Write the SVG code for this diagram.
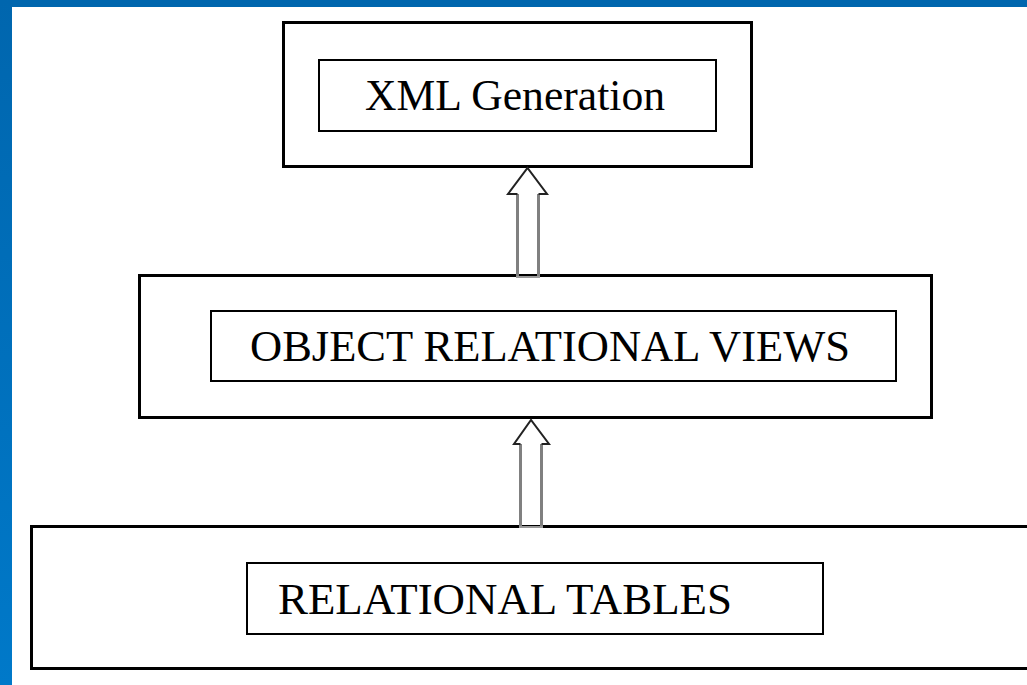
<svg xmlns="http://www.w3.org/2000/svg" width="1027" height="685" viewBox="0 0 1027 685">
<defs>
<linearGradient id="bl" x1="0" y1="0" x2="0" y2="1">
<stop offset="0" stop-color="#0066ae"/>
<stop offset="1" stop-color="#0079c9"/>
</linearGradient>
<style>
.outer{fill:#fff;stroke:#000;stroke-width:3}
.inner{fill:#fff;stroke:#000;stroke-width:2}
.t{font-family:"Liberation Serif","Times New Roman",serif;font-size:44px;fill:#000}
.shaft{fill:#fff;stroke:#808080;stroke-width:3}
.head{fill:none;stroke:#222;stroke-width:2;stroke-linejoin:miter}
</style>
</defs>
<rect x="0" y="0" width="1027" height="685" fill="#fff"/>
<rect x="0" y="0" width="1027" height="7" fill="#0066ae"/>
<rect x="0" y="0" width="12" height="685" fill="url(#bl)"/>
<g id="xml-generation">
<rect class="outer" x="283.5" y="22.5" width="468" height="144"/>
<rect class="inner" x="319" y="60" width="397" height="71"/>
<text class="t" x="365" y="110" textLength="300" lengthAdjust="spacingAndGlyphs">XML Generation</text>
</g>
<g id="object-relational-views">
<rect class="outer" x="139.5" y="275.5" width="792" height="142"/>
<rect class="inner" x="211" y="311" width="685" height="70"/>
<text class="t" x="250" y="361" textLength="600" lengthAdjust="spacingAndGlyphs">OBJECT RELATIONAL VIEWS</text>
</g>
<g id="relational-tables">
<rect class="outer" x="31.5" y="526.5" width="1000" height="142"/>
<rect class="inner" x="247" y="563" width="576" height="71"/>
<text class="t" x="278" y="614" textLength="454" lengthAdjust="spacingAndGlyphs">RELATIONAL TABLES</text>
</g>
<g id="connectors">
<path class="shaft" d="M517.5,278 V194 M538.5,194 V278"/>
<line x1="516" y1="277" x2="540" y2="277" stroke="#999" stroke-width="2"/>
<path class="head" d="M517.5,194 H508 L527.5,168 L547,194 H538.5"/>
<path class="shaft" d="M520.5,528 V444 M541.5,444 V528"/>
<line x1="519" y1="527" x2="543" y2="527" stroke="#999" stroke-width="2"/>
<path class="head" d="M520.5,444 H514 L531,420 L549,444 H541.5"/>
</g>
</svg>
